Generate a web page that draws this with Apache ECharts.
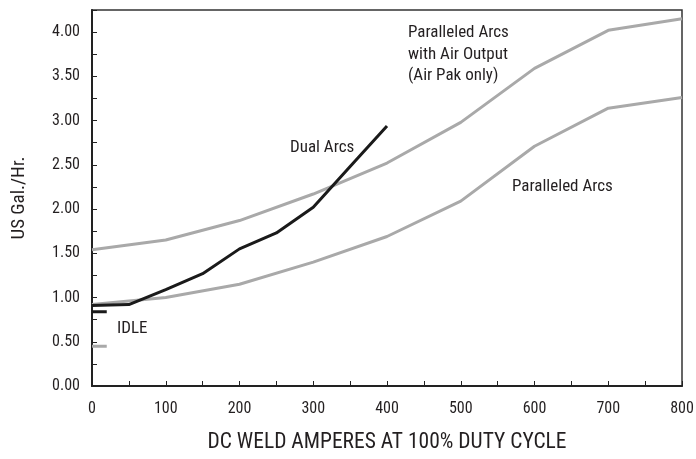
<!DOCTYPE html>
<html><head><meta charset="utf-8">
<script src="https://cdn.jsdelivr.net/npm/echarts@6/dist/echarts.min.js"></script>
<style>html,body{margin:0;padding:0;background:#fff}#c{width:696px;height:459px}</style>
</head><body><div id="c"></div>
<script>
var FONT = "'Roboto Condensed', 'Liberation Sans', sans-serif";
var amps = [0, 100, 200, 300, 400, 500, 600, 700, 800];
var airOutput = [1.54, 1.65, 1.87, 2.17, 2.52, 2.98, 3.59, 4.02, 4.15];
var paralleled = [0.92, 1.00, 1.15, 1.40, 1.69, 2.09, 2.71, 3.14, 3.26];
var dualAmps = [0, 50, 100, 150, 200, 250, 300, 350, 400];
var dualArcs = [0.91, 0.92, 1.09, 1.27, 1.55, 1.73, 2.02, 2.48, 2.94];
var idleAmps = [0, 20];
var idleDual = [0.84, 0.84];
var idleParallel = [0.45, 0.45];
var xTicks = [0, 100, 200, 300, 400, 500, 600, 700, 800];
var yTicks = [0, 0.5, 1, 1.5, 2, 2.5, 3, 3.5, 4];

function pairs(xs, ys) { return xs.map(function (x, i) { return [x, ys[i]]; }); }

var chart = echarts.init(document.getElementById('c'), null, {renderer: 'canvas'});
var GRAY = '#a9a9a9', BLACK = '#1a1a1a', TXT = '#231f20';
chart.setOption({
  animation: false,
  grid: {left: 92, right: 14, top: 10, bottom: 73, show: true, borderColor: '#333', borderWidth: 1.5,
         containLabel: false, outerBoundsMode: 'none'},
  xAxis: {
    type: 'value', min: 0, max: 800, interval: 50,
    axisLine: {show: true, lineStyle: {color: '#222', width: 2}},
    axisTick: {show: true, inside: true, length: 5, lineStyle: {color: '#222', width: 1}},
    splitLine: {show: false},
    axisLabel: {margin: 15, color: TXT, fontSize: 16, fontFamily: FONT,
      formatter: function (v) { return xTicks.indexOf(v) >= 0 ? String(v) : ''; }},
    name: 'DC WELD AMPERES AT 100% DUTY CYCLE', nameLocation: 'middle', nameGap: 46,
    nameTextStyle: {color: TXT, fontSize: 21.5, fontFamily: FONT}
  },
  yAxis: {
    type: 'value', min: 0, max: 4.25, interval: 0.25,
    axisLine: {show: true, lineStyle: {color: '#222', width: 2}},
    axisTick: {show: true, inside: true, length: 5, lineStyle: {color: '#222', width: 1}},
    splitLine: {show: false},
    axisLabel: {margin: 12, color: TXT, fontSize: 16, fontFamily: FONT,
      formatter: function (v) {
        for (var i = 0; i < yTicks.length; i++) if (Math.abs(yTicks[i] - v) < 1e-6) return v.toFixed(2);
        return '';
      }},
    name: 'US Gal./Hr.', nameLocation: 'middle', nameGap: 63,
    nameTextStyle: {color: TXT, fontSize: 19, fontFamily: FONT}
  },
  series: [
    {type: 'line', data: pairs(amps, airOutput), symbol: 'none', lineStyle: {color: GRAY, width: 3}},
    {type: 'line', data: pairs(amps, paralleled), symbol: 'none', lineStyle: {color: GRAY, width: 3}},
    {type: 'line', data: pairs(dualAmps, dualArcs), symbol: 'none', lineStyle: {color: BLACK, width: 3}},
    {type: 'line', data: pairs(idleAmps, idleDual), symbol: 'none', lineStyle: {color: BLACK, width: 3}},
    {type: 'line', data: pairs(idleAmps, idleParallel), symbol: 'none', lineStyle: {color: GRAY, width: 3}}
  ],
  graphic: [
    {type: 'text', x: 408, y: 54.5, style: {text: 'Paralleled Arcs\nwith Air Output\n(Air Pak only)', fill: TXT, font: '17px ' + FONT, lineHeight: 21.5, verticalAlign: 'middle'}},
    {type: 'text', x: 290, y: 148, style: {text: 'Dual Arcs', fill: TXT, font: '17px ' + FONT, verticalAlign: 'middle'}},
    {type: 'text', x: 512, y: 187, style: {text: 'Paralleled Arcs', fill: TXT, font: '17px ' + FONT, verticalAlign: 'middle'}},
    {type: 'text', x: 117, y: 329, style: {text: 'IDLE', fill: TXT, font: '17px ' + FONT, verticalAlign: 'middle'}}
  ]
});
</script></body></html>
